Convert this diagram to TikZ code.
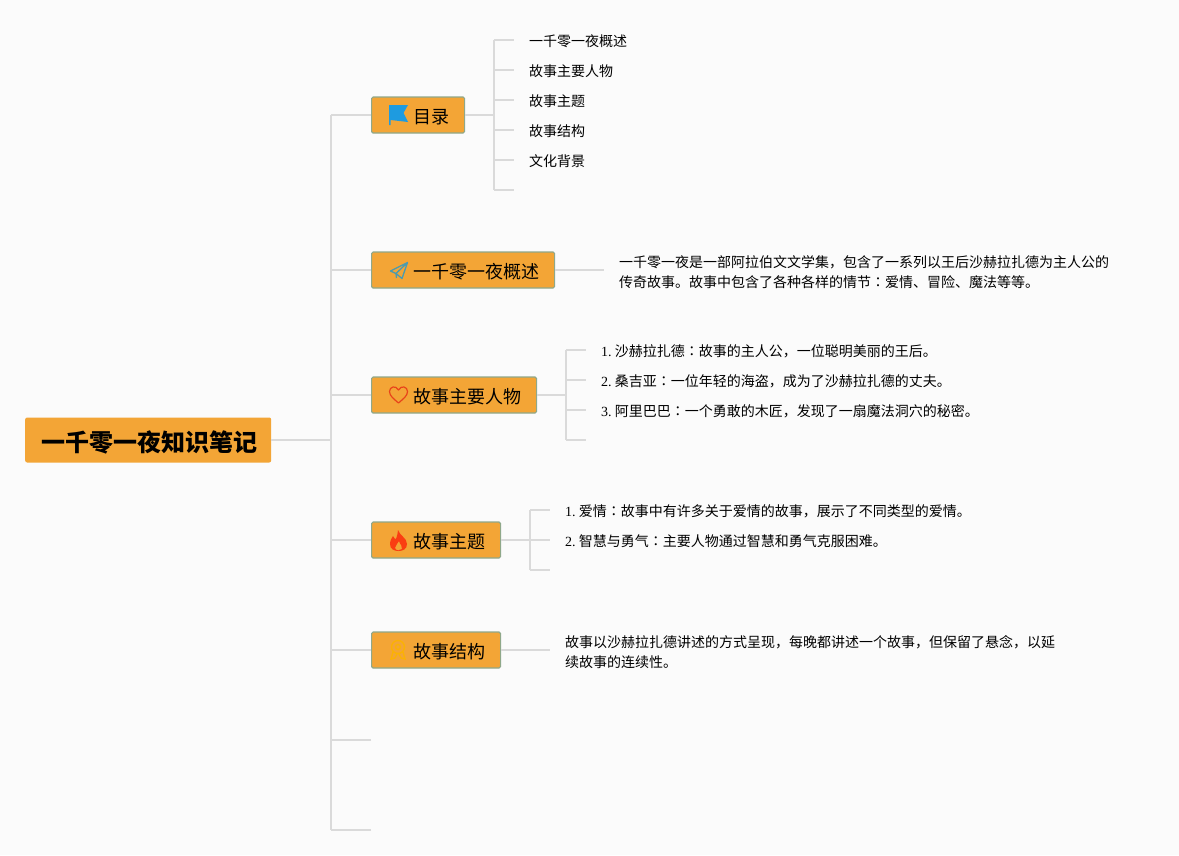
\documentclass[tikz,border=0pt]{standalone}
\usepackage{fontspec}
\setmainfont{Liberation Serif}
\newfontfamily\cjk{Noto Sans CJK SC}
\newfontfamily\cjktc{Noto Sans CJK TC}
\newcommand{\colonmark}{{\cjktc ：}}
\newcommand{\itemno}[1]{{\rmfamily #1}\hspace{-1pt} }
\definecolor{paper}{HTML}{FBFBFB}
\definecolor{boxfill}{HTML}{F3A536}
\definecolor{boxedge}{HTML}{8FA88A}
\definecolor{linkgray}{HTML}{DADADA}
\definecolor{flagblue}{HTML}{1E9BE0}
\definecolor{planeblue}{HTML}{4A9BB0}
\definecolor{heartred}{HTML}{E8431A}
\definecolor{flamered}{HTML}{FA3E12}
\definecolor{medalgold}{HTML}{FBB202}
\tikzset{
    link/.style={draw=linkgray, line width=1.6pt},
    rootbox/.style={fill=boxfill, rounded corners=2pt, minimum height=45pt, inner xsep=14pt, inner ysep=0pt, anchor=west, font=\cjk\bfseries\fontsize{24}{28}\selectfont},
    topicbox/.style={draw=boxedge, line width=1.2pt, fill=boxfill, rounded corners=1.5pt, minimum height=36pt, inner xsep=15pt, inner ysep=0pt, anchor=west, font=\cjk\fontsize{18}{22}\selectfont},
    leaf/.style={anchor=west, inner sep=0pt, align=left, font=\cjk\fontsize{14}{20}\selectfont},
}
\begin{document}
\begin{tikzpicture}[x=1pt, y=-1pt]
    \useasboundingbox [fill=paper] (0, 0) rectangle (1179, 855);
    % trunk
    \coordinate (trunktop) at (331, 115);
    \coordinate (trunkbottom) at (331, 830);
    \coordinate (trunkroot) at (331, 440);
    \coordinate (emptya) at (371, 740);
    \coordinate (emptyb) at (371, 830);
    \node [rootbox] (root) at (25, 440) {\rule{0pt}{25pt}\hspace*{2pt}一千零一夜知识笔记};
    \node [topicbox] (mulu) at (371, 115) {\rule{0pt}{18pt}\hspace*{27pt}目录};
    \node [topicbox] (gaishu) at (371, 270) {\rule{0pt}{18pt}\hspace*{27pt}一千零一夜概述};
    \node [topicbox] (renwu) at (371, 395) {\rule{0pt}{18pt}\hspace*{27pt}故事主要人物};
    \node [topicbox] (zhuti) at (371, 540) {\rule{0pt}{18pt}\hspace*{27pt}故事主题};
    \node [topicbox] (jiegou) at (371, 650) {\rule{0pt}{18pt}\hspace*{27pt}故事结构};
    \draw [link] (trunktop) -- (trunkbottom);
    \draw [link] (root.east) -- (trunkroot);
    \foreach \topic in {mulu, gaishu, renwu, zhuti, jiegou}
        \draw [link] (\topic.west) -- (\topic.west -| trunktop);
    \draw [link] (emptya) -- (emptya -| trunktop);
    \draw [link] (emptyb) -- (emptyb -| trunktop);
    % mulu leaves
    \coordinate (mulubar) at (494, 115);
    \draw [link] (mulu.east) -- (mulubar);
    \draw [link] (494, 40) -- (494, 190);
    \foreach \y in {40, 70, 100, 130, 160, 190}
        \draw [link] (494, \y) -- (514, \y);
    \node [leaf] (mulua) at (529, 41.5) {一千零一夜概述};
    \node [leaf] (mulub) at (529, 71.5) {故事主要人物};
    \node [leaf] (muluc) at (529, 101.5) {故事主题};
    \node [leaf] (mulud) at (529, 131.5) {故事结构};
    \node [leaf] (mulue) at (529, 161.5) {文化背景};
    % gaishu leaf
    \coordinate (gaishuend) at (604, 270);
    \draw [link] (gaishu.east) -- (gaishuend);
    \node [leaf] (gaishutext) at (619, 271.7) {一千零一夜是一部阿拉伯文文学集，包含了一系列以王后沙赫拉扎德为主人公的\\传奇故事。故事中包含了各种各样的情节\colonmark 爱情、冒险、魔法等等。};
    % renwu leaves
    \coordinate (renwubar) at (566, 395);
    \draw [link] (renwu.east) -- (renwubar);
    \draw [link] (566, 350) -- (566, 440);
    \foreach \y in {350, 380, 410, 440}
        \draw [link] (566, \y) -- (586, \y);
    \node [leaf] (renwua) at (601, 351.5) {\itemno{1.}沙赫拉扎德\colonmark 故事的主人公，一位聪明美丽的王后。};
    \node [leaf] (renwub) at (601, 381.5) {\itemno{2.}桑吉亚\colonmark 一位年轻的海盗，成为了沙赫拉扎德的丈夫。};
    \node [leaf] (renwuc) at (601, 411.5) {\itemno{3.}阿里巴巴\colonmark 一个勇敢的木匠，发现了一扇魔法洞穴的秘密。};
    % zhuti leaves
    \coordinate (zhutibar) at (530, 540);
    \draw [link] (zhuti.east) -- (zhutibar);
    \draw [link] (530, 510) -- (530, 570);
    \foreach \y in {510, 540, 570}
        \draw [link] (530, \y) -- (550, \y);
    \node [leaf] (zhutia) at (565, 511.5) {\itemno{1.}爱情\colonmark 故事中有许多关于爱情的故事，展示了不同类型的爱情。};
    \node [leaf] (zhutib) at (565, 541.5) {\itemno{2.}智慧与勇气\colonmark 主要人物通过智慧和勇气克服困难。};
    % jiegou leaf
    \coordinate (jiegouend) at (550, 650);
    \draw [link] (jiegou.east) -- (jiegouend);
    \node [leaf] (jiegoutext) at (565, 651.7) {故事以沙赫拉扎德讲述的方式呈现，每晚都讲述一个故事，但保留了悬念，以延\\续故事的连续性。};
    % icons
    \fill [flagblue] (389, 105) -- (408, 105) -- (403.5, 113) -- (408, 122) -- (390.5, 120) -- (390.5, 125) -- (389, 125) -- cycle;
    \draw [planeblue, line width=1.3pt, line join=round] (407.5, 262.5) -- (390.5, 271) -- (396, 273.5) -- (402, 278.5) -- cycle (396, 273.5) -- (407.5, 262.5) (396, 273.5) -- (396.5, 278);
    \draw [heartred, line width=1.2pt, line join=round] (398.5, 403) .. controls (394, 399) and (389.5, 396) .. (389.5, 391.5) .. controls (389.5, 386.5) and (396, 385) .. (398.5, 390) .. controls (401, 385) and (407.5, 386.5) .. (407.5, 391.5) .. controls (407.5, 396) and (403, 399) .. (398.5, 403) -- cycle;
    \fill [flamered, even odd rule] (398, 530) .. controls (400, 536) and (407, 538) .. (407, 544) .. controls (407, 549) and (403, 551) .. (398.5, 551) .. controls (394, 551) and (390, 549) .. (390, 544) .. controls (390, 540) and (392, 538) .. (393, 536) .. controls (394, 538) and (395, 539) .. (396, 539) .. controls (397, 536) and (398, 533) .. (398, 530) -- cycle (399, 541) .. controls (400, 545) and (403, 546) .. (402, 549) .. controls (400, 551) and (396, 551) .. (395, 548) .. controls (395, 545) and (398, 544) .. (399, 541) -- cycle;
    \draw [medalgold, line width=1.3pt] (398, 647) circle (6.5pt) (398, 647) circle (2.5pt) (393, 652) -- (391, 659) -- (395, 658) -- (397, 654) (403, 652) -- (405, 659) -- (401, 658) -- (399, 654);
\end{tikzpicture}
\end{document}
